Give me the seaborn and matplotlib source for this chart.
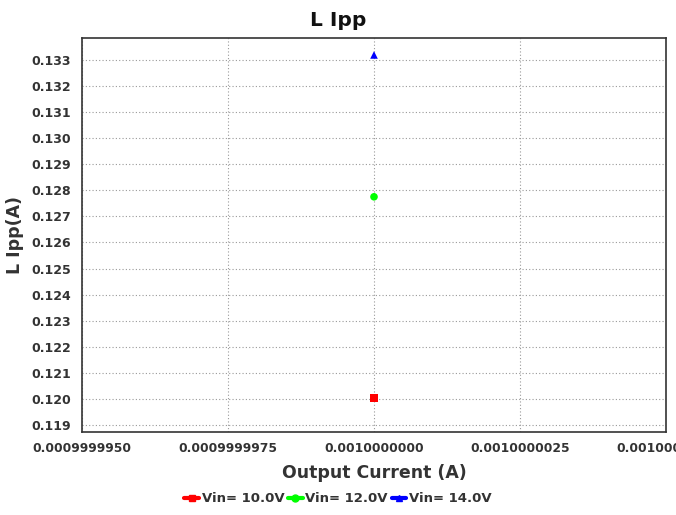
import matplotlib
matplotlib.use("Agg")
import matplotlib.pyplot as plt
import seaborn as sns
import pandas as pd
from matplotlib.ticker import FormatStrFormatter, MultipleLocator
from matplotlib.lines import Line2D

series = ["Vin= 10.0V", "Vin= 12.0V", "Vin= 14.0V"]
current = [0.001, 0.001, 0.001]
lipp = [0.12003, 0.12775, 0.13319]
colors = ["#ff0000", "#00ff00", "#0000ff"]
markers = ["s", "o", "^"]

df = pd.DataFrame({"series": series, "x": current, "y": lipp})

sns.set_style("white")
plt.rcParams["font.family"] = ["DejaVu Sans"]
plt.rcParams["font.weight"] = "bold"

fig = plt.figure(figsize=(6.76, 5.15), dpi=100)
ax = fig.add_axes([82 / 676, 1 - 432 / 515, (666 - 82) / 676, (432 - 38) / 515])

sns.scatterplot(data=df, x="x", y="y", hue="series", style="series",
                palette=colors, markers=markers, s=30, edgecolor="none",
                ax=ax, legend=False)

ax.set_xlim(0.000999995, 0.001000005)
ax.set_ylim(0.11873, 0.13384)
ax.xaxis.set_major_locator(MultipleLocator(0.0000000025))
ax.xaxis.set_major_formatter(FormatStrFormatter("%.10f"))
ax.yaxis.set_major_locator(MultipleLocator(0.001))
ax.yaxis.set_major_formatter(FormatStrFormatter("%.3f"))
ax.grid(True, color="#999999", linestyle=(0, (1, 2)), linewidth=0.8)
for sp in ax.spines.values():
    sp.set_color("#333333")
    sp.set_linewidth(1.2)
ax.tick_params(axis="x", labelsize=8.8, colors="#333333", length=0, pad=7)
ax.tick_params(axis="y", labelsize=9, colors="#333333", length=0, pad=8)
for lab in ax.get_xticklabels() + ax.get_yticklabels():
    lab.set_fontweight("bold")
    lab.set_clip_on(False)

fig.text(0.5, 1 - 20 / 515, "L Ipp", ha="center", va="center", fontsize=14.5,
         fontweight="bold", color="#111111")
ax.set_xlabel("Output Current (A)", fontsize=12.5, fontweight="bold", color="#333333", labelpad=7)
ax.set_ylabel("L Ipp(A)", fontsize=12.5, fontweight="bold", color="#333333", labelpad=5)

handles = [Line2D([0], [0], color=c, marker=m, markersize=5, linewidth=3) for c, m in zip(colors, markers)]
fig.legend(handles, series, loc="center", bbox_to_anchor=(0.5, 1 - 499 / 515), ncol=3,
           frameon=False, handlelength=1.1, handletextpad=0.2, columnspacing=0.3,
           labelcolor="#333333", prop={"weight": "bold", "size": 9.5})

fig.savefig("out.png", dpi=100)
